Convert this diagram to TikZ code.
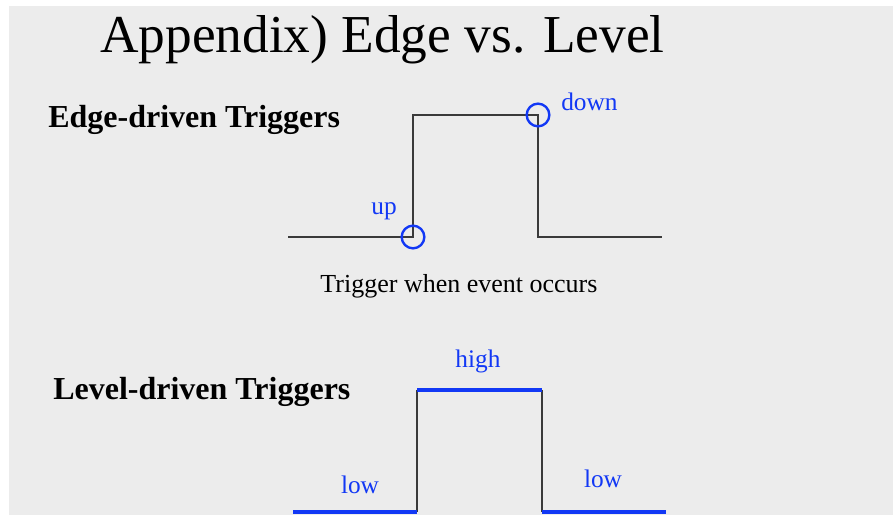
\documentclass[tikz,border=0pt]{standalone}
\usepackage{fontspec}
\setmainfont{Liberation Serif}
\usetikzlibrary{positioning}
\definecolor{slidegray}{HTML}{ECECEC}
\definecolor{sigblue}{HTML}{1238F5}
\definecolor{wavegray}{HTML}{3A3A3A}

\begin{document}
\begin{tikzpicture}[x=0.75pt, y=-0.75pt,
    wave/.style={line width=1.5pt, color=wavegray},
    lvl/.style={line width=3pt, color=sigblue},
    hit/.style={circle, draw=sigblue, line width=1.8pt, minimum size=17pt, inner sep=0pt},
    head/.style={font=\fontsize{24}{28}\selectfont\bfseries, anchor=base west, inner sep=0pt},
    tag/.style={font=\fontsize{19}{23}\selectfont, color=sigblue, anchor=base, inner sep=0pt}
  ]
    \useasboundingbox (0,0) rectangle (893,520);
    \fill[white] (0,0) rectangle (893,520);
    \fill[slidegray] (9,6) rectangle (893,515);

    %% Title
    \node[font=\fontsize{40}{46}\selectfont, anchor=base west, inner sep=0pt] (title) at (100,53) {Appendix) Edge vs. Level};

    %% Edge
    \node[head] (edgehd) at (48,128) {Edge-driven Triggers};
    \coordinate (e0) at (288,237);
    \coordinate (e1) at (413,237);
    \coordinate (e2) at (413,115);
    \coordinate (e3) at (538,115);
    \coordinate (e4) at (538,237);
    \coordinate (e5) at (662,237);
    \draw[wave] (e0) -- (e1) -- (e2) -- (e3) -- (e4) -- (e5);
    \node[hit] (uphit) at (e1) {};
    \node[hit] (downhit) at (e3) {};
    \node[tag] (up) at (384,215) {up};
    \node[tag, anchor=base west] (down) at (561,111) {down};
    \node[font=\fontsize{19.5}{23}\selectfont, anchor=base, inner sep=0pt] (edgenote) at (459,293) {Trigger when event occurs};

    %% Level
    \node[head] (levelhd) at (53,400) {Level-driven Triggers};
    \coordinate (l0) at (293,512);
    \coordinate (l1) at (417,512);
    \coordinate (l2) at (417,390);
    \coordinate (l3) at (542,390);
    \coordinate (l4) at (542,512);
    \coordinate (l5) at (666,512);
    \draw[wave] (l1) -- (l2);
    \draw[wave] (l3) -- (l4);
    \draw[lvl] (l0) -- (l1);
    \draw[lvl] (l2) -- (l3);
    \draw[lvl] (l4) -- (l5);
    \node[tag] (high) at (478,368) {high};
    \node[tag] (lowa) at (360,493) {low};
    \node[tag] (lowb) at (603,487) {low};
  \end{tikzpicture}
\end{document}
